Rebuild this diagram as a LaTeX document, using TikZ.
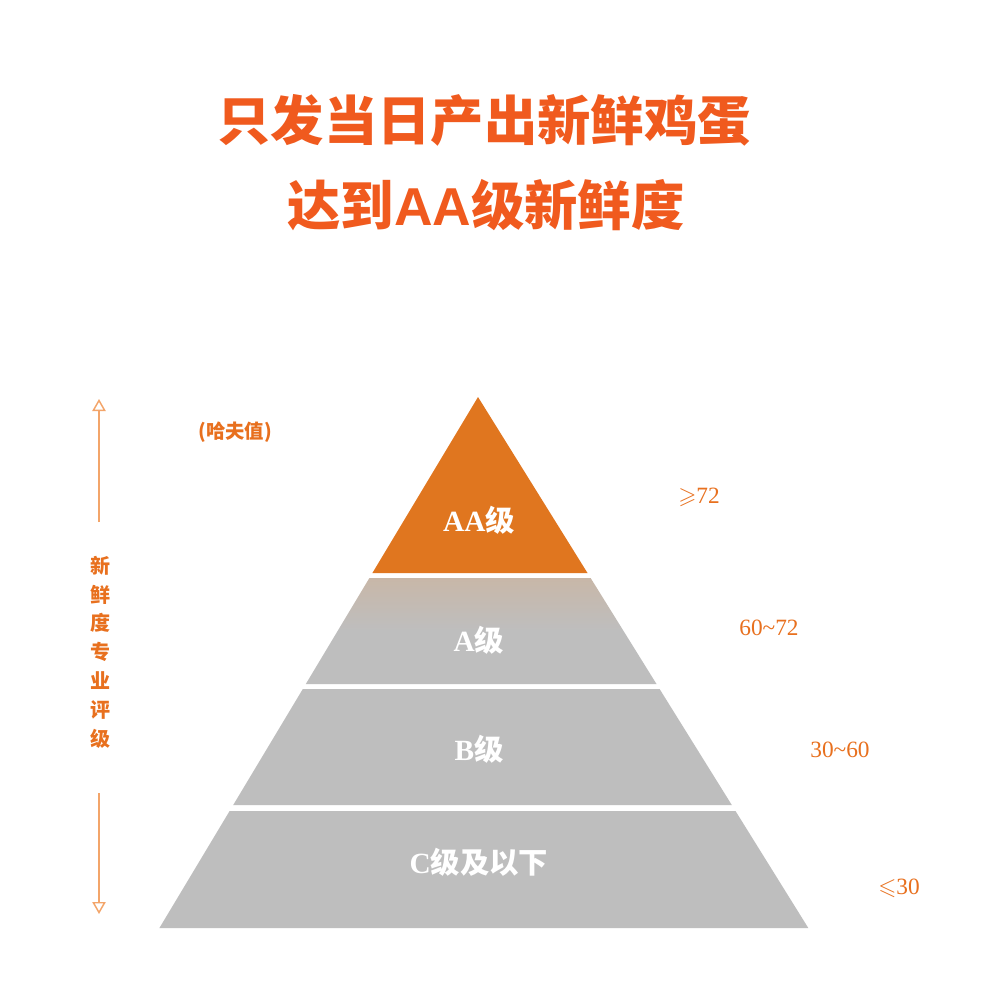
\documentclass[tikz,border=0pt]{standalone}
\usepackage{fontspec}
\usepackage{amssymb}
\setmainfont{Liberation Serif}
\newfontfamily\cjk{Noto Sans CJK SC}
\usetikzlibrary{arrows.meta}
\definecolor{titleor}{HTML}{F05A1E}
\definecolor{aaor}{HTML}{E0761F}
\definecolor{labor}{HTML}{E8701E}
\definecolor{lvgray}{HTML}{BEBEBE}
\definecolor{tint}{HTML}{C8B7A8}
\definecolor{arrowor}{HTML}{F3A56A}
\begin{document}
\begin{tikzpicture}[x=0.75pt,y=-0.75pt,
  titletext/.style={font=\cjk\bfseries\fontsize{40}{48}\selectfont, text=titleor, inner sep=0pt},
  lvtext/.style={font=\bfseries\fontsize{22}{26}\selectfont, text=white, inner sep=0pt},
  numtext/.style={font=\fontsize{17.5}{21}\selectfont, text=labor, inner sep=0pt},
  sidetext/.style={font=\cjk\bfseries\fontsize{15}{21.6}\selectfont, text=labor, align=center, inner sep=0pt},
  axisarrow/.style={draw=arrowor, line width=1.1pt, -{Triangle[open, length=9pt, width=10pt]}}]
\useasboundingbox (0,0) rectangle (1000,1000);
\fill[white] (0,0) rectangle (1000,1000);
% title
\node[titletext] (t1) at (484,120) {只发当日产出新鲜鸡蛋};
\node[titletext] (t2) at (486,205) {达到{\fontspec{Liberation Sans}\bfseries AA}级新鲜度};
% pyramid layers
\coordinate (apex) at (478,397);
\fill[aaor] (apex) -- (587.5,573) -- (372.4,573) -- cycle;
\shade[top color=tint, bottom color=lvgray, middle color=lvgray]
  (369.4,578) -- (590.6,578) -- (656.5,684) -- (305.8,684) -- cycle;
\fill[lvgray] (302.8,689) -- (659.6,689) -- (731.8,805) -- (233.2,805) -- cycle;
\fill[lvgray] (229.6,811) -- (735.5,811) -- (808.3,928) -- (159.4,928) -- cycle;
% layer labels
\node[lvtext] (aa) at (479,520) {AA{\cjk 级}};
\node[lvtext] (a) at (479,640) {A{\cjk 级}};
\node[lvtext] (b) at (479,749) {B{\cjk 级}};
\node[lvtext] (c) at (479,862) {C{\cjk 级及以下}};
% values
\node[numtext] (v1) at (699,497) {$\geqslant$72};
\node[numtext] (v2) at (769,628) {60\textasciitilde72};
\node[numtext] (v3) at (840,750) {30\textasciitilde60};
\node[numtext] (v4) at (899,888) {$\leqslant$30};
% unit
\node[font=\cjk\bfseries\fontsize{14.5}{17}\selectfont, text=labor, inner sep=0pt] (unit) at (235,432) {(哈夫值)};
% side axis
\node[sidetext] (side) at (100,652) {新\\鲜\\度\\专\\业\\评\\级};
\coordinate (upS) at (99,522);
\coordinate (upE) at (99,399);
\coordinate (dnS) at (99,793);
\coordinate (dnE) at (99,914);
\draw[axisarrow] (upS) -- (upE);
\draw[axisarrow] (dnS) -- (dnE);
\end{tikzpicture}
\end{document}
